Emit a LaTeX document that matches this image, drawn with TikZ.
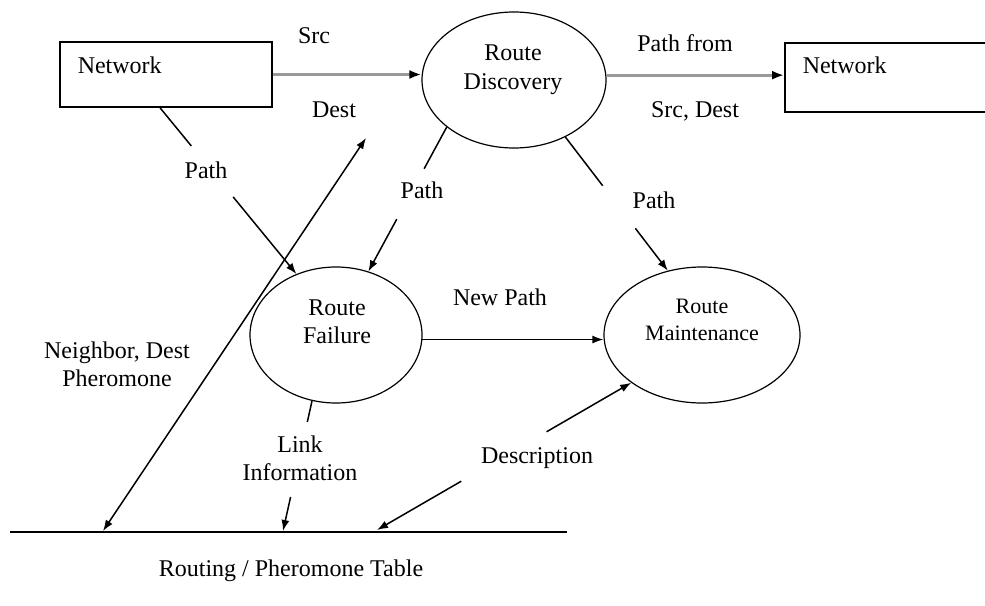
\documentclass[tikz,border=0pt]{standalone}
\usepackage{fontspec}
\setmainfont{Liberation Serif}
\usetikzlibrary{shapes.geometric,arrows.meta}

\tikzset{every picture/.style={line width=0.75pt}}
\tikzset{
  proc/.style={draw, ellipse, line width=0.6pt, inner sep=0pt},
  netbox/.style={draw, rectangle, line width=0.9pt, inner sep=0pt},
  txt/.style={inner sep=0pt, anchor=base, align=center, font=\fontsize{12}{14}\selectfont},
  flow/.style={-{Latex[length=5.5pt,width=4pt]}},
  bothflow/.style={{Latex[length=5.5pt,width=4pt]}-{Latex[length=5.5pt,width=4pt]}},
  srcflow/.style={-{Latex[length=6pt,width=4.5pt,color=black]}, draw=black!40, line width=1.4pt},
}

\begin{document}
\begin{tikzpicture}[x=0.5pt,y=0.5pt,yscale=-1,xscale=1]
\path[use as bounding box] (0,0) rectangle (985,605);
\clip (0,0) rectangle (985,605);

%Shape: Rectangle
\node [netbox, minimum width=106pt, minimum height=32.5pt] (net1) at (166,74.5) {};
%Shape: Rectangle
\node [netbox, minimum width=112.5pt, minimum height=34.5pt] (net2) at (897.5,77.5) {};
%Shape: Ellipse
\node [proc, minimum width=92pt, minimum height=68pt] (disc) at (514,80) {};
%Shape: Ellipse
\node [proc, minimum width=86pt, minimum height=68pt] (fail) at (336,335) {};
%Shape: Ellipse
\node [proc, minimum width=98pt, minimum height=68pt] (maint) at (702,335) {};

%Free ends
\coordinate (nbTop) at (366,138);
\coordinate (nbEnd) at (103,531);
\coordinate (lnkEnd) at (283,531);
\coordinate (dscEnd) at (377,530);
\coordinate (tabL) at (10,532);
\coordinate (tabR) at (567,532);

%Straight Lines
\draw [line width=1pt] (tabL) -- (tabR);
%Straight Lines
\draw [srcflow] (net1.east) -- (net1.east -| disc.west);
%Straight Lines
\draw [srcflow] (disc.3) -- (disc.3 -| net2.west);
%Straight Lines
\draw [shorten >=82.8pt] (net1.-100) -- (fail.123);
\draw [flow, shorten <=57.6pt] (net1.-100) -- (fail.123);
%Straight Lines
\draw [shorten >=58.4pt] (disc.215) -- (fail.63);
\draw [flow, shorten <=52.4pt] (disc.215) -- (fail.63);
%Straight Lines
\draw [shorten >=53.5pt] (disc.-48) -- (maint.118);
\draw [flow, shorten <=57.5pt] (disc.-48) -- (maint.118);
%Straight Lines
\draw [flow] (fail.-3) -- (fail.-3 -| maint.west);
%Straight Lines
\draw [shorten >=55.9pt] (fail.-110) -- (lnkEnd);
\draw [flow, shorten <=49.2pt] (fail.-110) -- (lnkEnd);
%Straight Lines
\draw [{Latex[length=5.5pt,width=4pt]}-, shorten >=98pt] (maint.214) -- (dscEnd);
\draw [flow, shorten <=98.2pt] (maint.214) -- (dscEnd);
%Straight Lines
\draw [bothflow] (nbTop) -- (nbEnd);

% Text Node
\node [txt, anchor=base west] (net1txt) at (77,73) {Network};
% Text Node
\node [txt, anchor=base west] (net2txt) at (802,73) {Network};
% Text Node
\node [txt] (disctxt) at (513,89) {Route\\Discovery};
% Text Node
\node [txt] (failtxt) at (337,343) {Route\\Failure};
% Text Node
\node [txt, font=\fontsize{11}{13.5}\selectfont] (mainttxt) at (702,340) {Route\\Maintenance};
% Text Node
\node [txt] (srcl) at (314,43) {Src};
% Text Node
\node [txt] (destl) at (334,117) {Dest};
% Text Node
\node [txt] (pathfroml) at (685,51) {Path from};
% Text Node
\node [txt] (srcdestl) at (695,117) {Src, Dest};
% Text Node
\node [txt] (path1l) at (206,178) {Path};
% Text Node
\node [txt] (path2l) at (422,198) {Path};
% Text Node
\node [txt] (path3l) at (654,208) {Path};
% Text Node
\node [txt] (newpathl) at (500,305) {New Path};
% Text Node
\node [txt] (nbl) at (117,386) {Neighbor, Dest\\Pheromone};
% Text Node
\node [txt] (linkl) at (300,480) {Link\\Information};
% Text Node
\node [txt] (descl) at (537,463) {Description};
% Text Node
\node [txt] (tabl) at (291,576) {Routing / Pheromone Table};

\end{tikzpicture}
\end{document}
